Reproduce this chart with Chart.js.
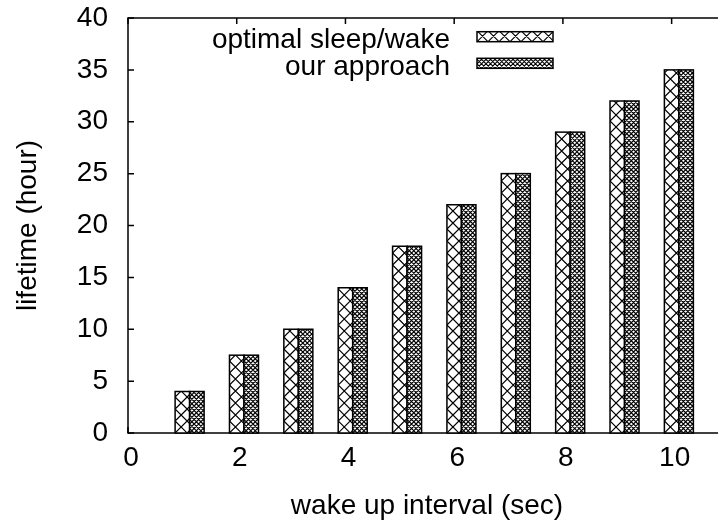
<!DOCTYPE html>
<html>
<head>
<meta charset="utf-8">
<script src="https://cdn.jsdelivr.net/npm/chart.js@4.4.1/dist/chart.umd.min.js"></script>
<style>
  html, body { margin: 0; padding: 0; background: #fff; overflow: hidden; }
  #wrap { width: 726px; height: 525px; }
</style>
</head>
<body>
<div id="wrap"><canvas id="lifetime" width="726" height="525"></canvas></div>
<script>
"use strict";

const intervals = [1, 2, 3, 4, 5, 6, 7, 8, 9, 10];
const optimalSleepWake = [4, 7.5, 10, 14, 18, 22, 25, 29, 32, 35];
const ourApproach = [4, 7.5, 10, 14, 18, 22, 25, 29, 32, 35];
const xTicks = [0, 2, 4, 6, 8, 10];
const yTicks = [0, 5, 10, 15, 20, 25, 30, 35, 40];
const seriesNames = ["optimal sleep/wake", "our approach"];

const FAMILY = "'Liberation Sans', Arial, Helvetica, sans-serif";
const FONT_SIZE = 28;
const hatchPeriod = [12, 4.5];
const keyPeriod = [11, 4.5];

// fill a box white and cross it with two families of 45 degree lines
const hatch = (ctx, x, y, w, h, p) => {
    ctx.save();
    ctx.beginPath();
    ctx.rect(x, y, w, h);
    ctx.clip();
    ctx.fillStyle = "#fff";
    ctx.fillRect(x, y, w, h);
    ctx.strokeStyle = "#000";
    ctx.lineWidth = 1.1;
    ctx.beginPath();
    const yb = y + h;
    for (let c = -Math.ceil(w / p) * p; c <= h + w; c += p) {
        ctx.moveTo(x, yb - c);
        ctx.lineTo(x + w, yb - c - w);
        ctx.moveTo(x, yb - c);
        ctx.lineTo(x + w, yb - c + w);
    }
    ctx.stroke();
    ctx.restore();
};

const toPoints = (vals) => intervals.map((x, i) => ({ x: x, y: vals[i] }));

// gnuplot style frame: full box with inward ticks
const frame = {
    id: "frame",
    beforeDatasetsDraw(chart) {
        const { ctx, chartArea: a, scales } = chart;
        ctx.save();
        ctx.strokeStyle = "#000";
        ctx.lineWidth = 1.5;
        ctx.strokeRect(a.left, a.top, a.right - a.left, a.bottom - a.top);
        ctx.beginPath();
        yTicks.forEach(v => {
            const py = scales.y.getPixelForValue(v);
            ctx.moveTo(a.left, py); ctx.lineTo(a.left + 6, py);
            ctx.moveTo(a.right, py); ctx.lineTo(a.right - 6, py);
        });
        xTicks.forEach(v => {
            const px = scales.x.getPixelForValue(v);
            ctx.moveTo(px, a.top); ctx.lineTo(px, a.top + 6);
            ctx.moveTo(px, a.bottom); ctx.lineTo(px, a.bottom - 6);
        });
        ctx.stroke();
        ctx.restore();
    }
};

// second bar of each pair sits right of the first one; draw both hatched
const hatchedBars = {
    id: "hatchedBars",
    afterDatasetsUpdate(chart) {
        chart.getDatasetMeta(1).data.forEach(bar => { bar.x += bar.width; });
    },
    afterDatasetsDraw(chart) {
        const ctx = chart.ctx;
        chart.data.datasets.forEach((ds, di) => {
            chart.getDatasetMeta(di).data.forEach(bar => {
                const left = bar.x - bar.width / 2;
                const top = Math.min(bar.y, bar.base);
                const h = Math.abs(bar.base - bar.y);
                hatch(ctx, left, top, bar.width, h, hatchPeriod[di]);
                ctx.save();
                ctx.strokeStyle = "#000";
                ctx.lineWidth = 1.5;
                ctx.strokeRect(left, top, bar.width, h);
                ctx.restore();
            });
        });
    }
};

// key in the upper part of the plot, text right aligned before the swatch
const keyBox = {
    id: "keyBox",
    afterDraw(chart) {
        const ctx = chart.ctx;
        ctx.save();
        ctx.font = FONT_SIZE + "px " + FAMILY;
        ctx.fillStyle = "#000";
        ctx.textAlign = "right";
        ctx.textBaseline = "alphabetic";
        seriesNames.forEach((name, i) => {
            const cy = 36.7 + i * 26.6;
            ctx.fillText(name, 450, cy + 11.6);
            hatch(ctx, 477, cy - 5, 76, 10, keyPeriod[i]);
            ctx.strokeStyle = "#000";
            ctx.lineWidth = 1.5;
            ctx.strokeRect(477, cy - 5, 76, 10);
        });
        ctx.restore();
    }
};

const tickFont = { family: FAMILY, size: FONT_SIZE };

new Chart(document.getElementById("lifetime"), {
    type: "bar",
    data: {
        datasets: [
            { label: seriesNames[0], data: toPoints(optimalSleepWake), backgroundColor: "rgba(0,0,0,0)", borderWidth: 0, barThickness: 14.5, grouped: false },
            { label: seriesNames[1], data: toPoints(ourApproach), backgroundColor: "rgba(0,0,0,0)", borderWidth: 0, barThickness: 14.5, grouped: false }
        ]
    },
    options: {
        responsive: false,
        animation: false,
        layout: { padding: { top: 18, right: 0, bottom: 0, left: 0 } },
        plugins: { legend: { display: false }, tooltip: { enabled: false } },
        scales: {
            x: {
                type: "linear",
                min: 0,
                max: 11,
                offset: false,
                afterBuildTicks: s => { s.ticks = xTicks.map(v => ({ value: v })); },
                afterFit: s => { s.height = 92; s.paddingLeft = 0; s.paddingRight = 0; },
                grid: { display: false, drawTicks: false },
                border: { display: false },
                ticks: { color: "#000", font: tickFont, padding: 8, maxRotation: 0, labelOffset: 3 },
                title: { display: true, text: "wake up interval (sec)", color: "#000", font: tickFont, padding: { top: 0, bottom: 2 } }
            },
            y: {
                min: 0,
                max: 40,
                afterBuildTicks: s => { s.ticks = yTicks.map(v => ({ value: v })); },
                afterFit: s => { s.width = 128; s.paddingTop = 0; s.paddingBottom = 0; },
                grid: { display: false, drawTicks: false },
                border: { display: false },
                ticks: { color: "#000", font: tickFont, padding: 20 },
                title: { display: true, text: "lifetime (hour)", color: "#000", font: tickFont, padding: { top: 11, bottom: 0 } }
            }
        }
    },
    plugins: [frame, hatchedBars, keyBox]
});
</script>
</body>
</html>
